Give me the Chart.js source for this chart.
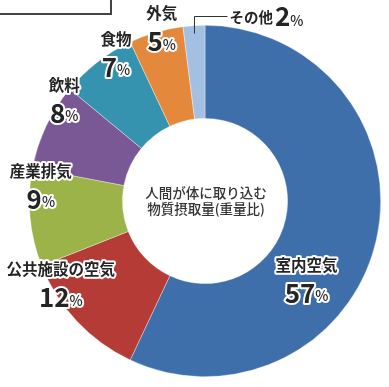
<!DOCTYPE html>
<html>
<head>
<meta charset="utf-8">
<script src="https://cdn.jsdelivr.net/npm/chart.js@4"></script>
<style>
  html, body { margin: 0; padding: 0; background: #fff; }
  #wrap { position: relative; width: 389px; height: 387px; }
  #box { position: absolute; left: -2px; top: -2px; width: 110px; height: 13px;
         border: 2px solid #444; background: #fff; }
</style>
</head>
<body>
<div id="wrap">
  <canvas id="grafico" width="389" height="387"></canvas>
  <div id="box"></div>
</div>
<script>
let categorias = ["室内空気", "公共施設の空気", "産業排気", "飲料", "食物", "外気", "その他"];
let valores = [57, 12, 9, 8, 7, 5, 2];
let cores = ["#3e6fab", "#b43b36", "#9bb349", "#7a5895", "#3693b0", "#e4883b", "#a3c0e2"];
let centro = ["人間が体に取り込む", "物質摂取量(重量比)"];

// onde fica cada rótulo (ângulo em graus a partir do topo, raio em px)
let posRotulos = [
  [127.5, 128], [240.3, 166], [275.6, 165], [306, 174], [329, 173], [346, 179], null
];

const fonte = '"Noto Sans CJK JP", "Noto Sans", sans-serif';

function textoContorno(ctx, txt, x, y, font) {
  ctx.font = font;
  ctx.lineJoin = "round";
  ctx.lineWidth = 4;
  ctx.strokeStyle = "#fff";
  ctx.strokeText(txt, x, y);
  ctx.fillStyle = "#242424";
  ctx.fillText(txt, x, y);
}

const rotulos = {
  id: "rotulos",
  afterDraw(chart) {
    const ctx = chart.ctx;
    const meta = chart.getDatasetMeta(0);
    const arc0 = meta.data[0];
    const cx = arc0.x, cy = arc0.y;
    ctx.save();
    ctx.textBaseline = "middle";

    // texto do centro
    ctx.textAlign = "center";
    ctx.fillStyle = "#333";
    ctx.font = "500 13.5px " + fonte;
    ctx.fillText(centro[0], cx + 1, cy - 8);
    ctx.fillText(centro[1], cx + 1, cy + 8);

    categorias.forEach((nome, i) => {
      const p = posRotulos[i];
      if (!p) return;
      const a = (p[0] - 90) * Math.PI / 180;
      const x = cx + p[1] * Math.cos(a);
      const y = cy + p[1] * Math.sin(a);
      ctx.textAlign = "center";
      textoContorno(ctx, nome, x, y - 14, "bold 15.5px " + fonte);
      const num = String(valores[i]);
      const fN = "bold 26px " + fonte;
      const fP = "500 14px " + fonte;
      ctx.font = fN; const wN = ctx.measureText(num).width;
      ctx.font = fP; const wP = ctx.measureText("%").width;
      const x0 = x - (wN + wP) / 2;
      ctx.textAlign = "left";
      const yN = y + 14;
      textoContorno(ctx, num, x0, yN, fN);
      textoContorno(ctx, "%", x0 + wN, yN + 3, fP);
    });

    // その他 com linha de chamada
    const ult = meta.data[categorias.length - 1];
    const am = (ult.startAngle + ult.endAngle) / 2;
    const lx = cx + (ult.outerRadius - 8) * Math.cos(am);
    const ly = cy + (ult.outerRadius - 8) * Math.sin(am);
    ctx.strokeStyle = "#333";
    ctx.lineWidth = 1;
    ctx.beginPath();
    ctx.moveTo(lx, ly);
    ctx.lineTo(lx, 16.5);
    ctx.lineTo(lx + 33, 16.5);
    ctx.stroke();
    ctx.textAlign = "left";
    ctx.fillStyle = "#242424";
    ctx.font = "bold 14.5px " + fonte;
    const t = categorias[categorias.length - 1];
    ctx.fillText(t, lx + 35, 17);
    let xx = lx + 35 + ctx.measureText(t).width + 2;
    ctx.font = "bold 26px " + fonte;
    const n = String(valores[valores.length - 1]);
    ctx.fillText(n, xx, 16);
    xx += ctx.measureText(n).width;
    ctx.font = "500 14px " + fonte;
    ctx.fillText("%", xx, 21);
    ctx.restore();
  }
};

let grafico = new Chart(document.getElementById("grafico"), {
  type: "doughnut",
  data: {
    labels: categorias,
    datasets: [{
      data: valores,
      backgroundColor: cores,
      borderColor: "rgba(255,255,255,0.6)",
      borderWidth: 0.6,
    }],
  },
  options: {
    responsive: false,
    animation: false,
    cutout: "47%",
    layout: { padding: { left: 29, right: 8, top: 25, bottom: 10 } },
    plugins: { legend: { display: false }, tooltip: { enabled: false } },
  },
  plugins: [rotulos],
});
</script>
</body>
</html>
